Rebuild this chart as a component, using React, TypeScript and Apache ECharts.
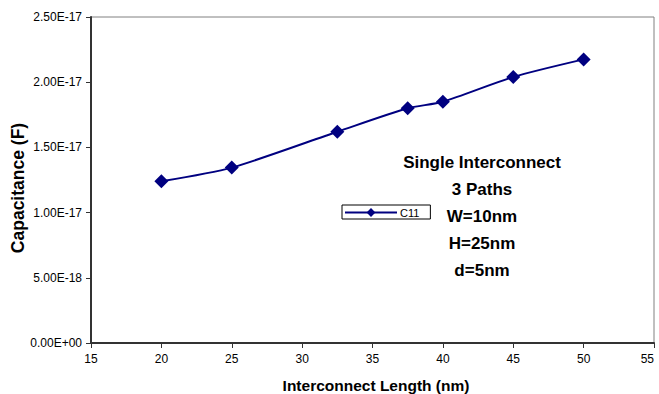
import React, { useEffect, useRef } from "react";
import * as echarts from "echarts";

const lengths = [20, 25, 32.5, 37.5, 40, 45, 50];
const c11 = [1.24e-17, 1.345e-17, 1.62e-17, 1.8e-17, 1.85e-17, 2.04e-17, 2.175e-17];
const annotationLines = ["Single Interconnect", "3 Paths", "W=10nm", "H=25nm", "d=5nm"];

function fmtExp(v: number): string {
  const s = v.toExponential(2).toUpperCase();
  const m = s.match(/^(-?[\d.]+)E([+-])(\d+)$/);
  if (!m) return s;
  const e = m[3].length < 2 ? "0" + m[3] : m[3];
  return `${m[1]}E${m[2]}${e}`;
}

export default function App() {
  const ref = useRef<HTMLDivElement>(null);
  useEffect(() => {
    if (!ref.current) return;
    const chart = echarts.init(ref.current, undefined, { renderer: "svg" });
    const font = "Liberation Sans, Arial, sans-serif";
    chart.setOption({
      animation: false,
      backgroundColor: "#ffffff",
      textStyle: { fontFamily: font },
      grid: {
        left: 91,
        right: 5,
        top: 17,
        bottom: 51,
        containLabel: false,
        outerBoundsMode: "none",
        show: true,
        borderColor: "#808080",
        borderWidth: 1,
      },
      legend: {
        show: true,
        left: 342,
        top: 205,
        orient: "vertical",
        itemWidth: 52,
        itemHeight: 11,
        itemGap: 0,
        padding: [2, 11, 1, 2],
        borderColor: "#000000",
        borderWidth: 1,
        textStyle: { fontFamily: font, fontSize: 11, color: "#000000", padding: [0, 0, 0, -2] },
        data: ["C11"],
      },
      xAxis: {
        type: "value",
        min: 15,
        max: 55,
        interval: 5,
        name: "Interconnect Length (nm)",
        nameLocation: "middle",
        nameGap: 34,
        nameTextStyle: { fontFamily: font, fontSize: 15.5, fontWeight: "bold", color: "#000000", padding: [0, 0, 0, 7] },
        axisLine: { show: true, lineStyle: { color: "#333333", width: 2 } },
        axisTick: { show: true, length: 5, lineStyle: { color: "#333333", width: 1 } },
        axisLabel: { fontFamily: font, fontSize: 12, color: "#000000", margin: 10, alignMaxLabel: "right" },
        splitLine: { show: false },
      },
      yAxis: {
        type: "value",
        min: 0,
        max: 2.5e-17,
        interval: 5e-18,
        axisLine: { show: true, lineStyle: { color: "#333333", width: 2 } },
        axisTick: { show: true, length: 5, lineStyle: { color: "#333333", width: 1 } },
        axisLabel: { fontFamily: font, fontSize: 12, color: "#000000", margin: 9, formatter: (v: number) => fmtExp(v) },
        splitLine: { show: false },
      },
      series: [
        {
          name: "C11",
          type: "line",
          data: lengths.map((x, i) => [x, c11[i]]),
          smooth: 0.25,
          symbol: "diamond",
          symbolSize: 14,
          itemStyle: { color: "#000080" },
          lineStyle: { color: "#000080", width: 2 },
        },
      ],
      graphic: [
        {
          type: "text",
          x: 18,
          y: 188,
          rotation: Math.PI / 2,
          style: {
            text: "Capacitance (F)",
            fontFamily: font,
            fontSize: 17.5,
            fontWeight: "bold",
            fill: "#000000",
            textAlign: "center",
            textVerticalAlign: "middle",
          },
        },
        ...annotationLines.map((t, i) => ({
          type: "text",
          x: 482,
          y: 162 + i * 27,
          style: {
            text: t,
            fontFamily: font,
            fontSize: 17,
            fontWeight: "bold",
            fill: "#000000",
            textAlign: "center",
            textVerticalAlign: "middle",
          },
        })),
      ],
    });
    return () => chart.dispose();
  }, []);
  return <div ref={ref} style={{ position: "fixed", left: 0, top: 0, width: 659, height: 394 }} />;
}
